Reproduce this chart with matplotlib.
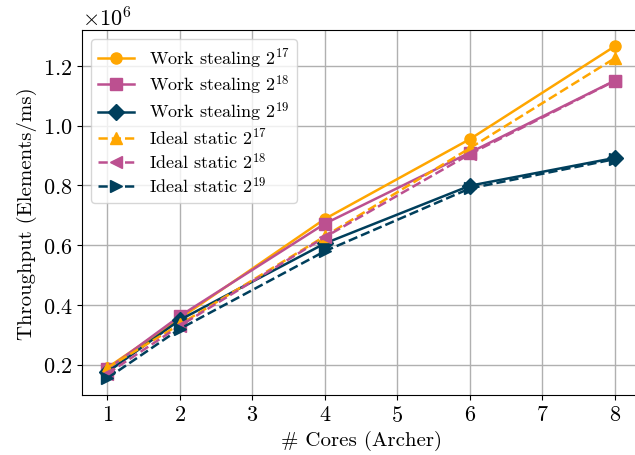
import matplotlib
matplotlib.use("Agg")
import matplotlib.pyplot as plt

plt.rcParams['font.family'] = ['cmr10', 'DejaVu Serif']
plt.rcParams['mathtext.fontset'] = 'cm'
plt.rcParams['axes.formatter.use_mathtext'] = True
plt.rcParams['axes.unicode_minus'] = False

cores = [1, 2, 4, 6, 8]
ws17 = [0.190e6, 0.355e6, 0.688e6, 0.955e6, 1.266e6]
ws18 = [0.185e6, 0.363e6, 0.672e6, 0.910e6, 1.151e6]
ws19 = [0.175e6, 0.350e6, 0.606e6, 0.799e6, 0.892e6]
is17 = [0.190e6, 0.335e6, 0.630e6, 0.925e6, 1.226e6]
is18 = [0.170e6, 0.330e6, 0.627e6, 0.905e6, 1.150e6]
is19 = [0.155e6, 0.320e6, 0.580e6, 0.790e6, 0.888e6]

c1, c2, c3 = '#ffa600', '#bc5090', '#003f5c'

fig = plt.figure(figsize=(6.35, 4.56), dpi=100)
ax = fig.add_axes([82/635, 1-396/456, (640.4-82)/635, (396-31)/456])

lw = 1.8
ms = 8
ax.plot(cores, ws17, '-', color=c1, marker='o', lw=lw, ms=ms, label=r'Work stealing $2^{17}$')
ax.plot(cores, ws18, '-', color=c2, marker='s', lw=lw, ms=ms, label=r'Work stealing $2^{18}$')
ax.plot(cores, ws19, '-', color=c3, marker='D', lw=lw, ms=ms, label=r'Work stealing $2^{19}$')
ax.plot(cores, is17, '--', color=c1, marker='^', lw=lw, ms=ms, label=r'Ideal static $2^{17}$')
ax.plot(cores, is18, '--', color=c2, marker='<', lw=lw, ms=ms, label=r'Ideal static $2^{18}$')
ax.plot(cores, is19, '--', color=c3, marker='>', lw=lw, ms=ms, label=r'Ideal static $2^{19}$')

ax.set_xlim(0.65, 8.35)
ax.set_ylim(0.0986e6, 1.320e6)
ax.set_yticks([0.2e6, 0.4e6, 0.6e6, 0.8e6, 1.0e6, 1.2e6])
ax.grid(True, color='#b0b0b0', lw=1.0)
ax.set_axisbelow(True)
ax.tick_params(labelsize=16)
ax.yaxis.get_offset_text().set_fontsize(16)
ax.set_xlabel('# Cores (Archer)', fontsize=15)
ax.set_ylabel('Throughput (Elements/ms)', fontsize=15)
ax.legend(loc='upper left', fontsize=13, framealpha=0.8, labelspacing=0.2,
          borderaxespad=0.5)

fig.savefig('out.png', dpi=100)
